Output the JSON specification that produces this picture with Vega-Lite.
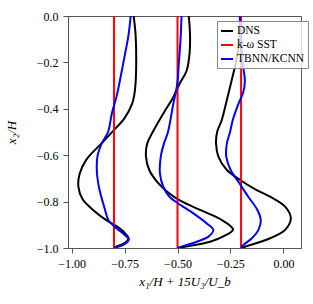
{
  "$schema": "https://vega.github.io/schema/vega-lite/v6.json",
  "autosize": {"type": "none"},
  "padding": {"left": 68, "top": 16, "right": 12, "bottom": 56},
  "width": 233,
  "height": 232,
  "background": "white",
  "config": {
    "view": {"stroke": "#555", "strokeWidth": 1},
    "axis": {
      "labelFont": "Liberation Serif", "labelFontSize": 12, "labelColor": "black",
      "titleFont": "Liberation Serif", "titleFontSize": 13, "titleFontStyle": "italic", "titleFontWeight": "normal", "titleColor": "black",
      "domainColor": "#555", "tickColor": "#555", "tickSize": 5, "grid": false
    }
  },
  "data": {"values": [
    {"m":"DNS","p":1,"y":0,"x":-0.707},{"m":"DNS","p":1,"y":-0.08,"x":-0.698},{"m":"DNS","p":1,"y":-0.2,"x":-0.695},{"m":"DNS","p":1,"y":-0.29,"x":-0.698},{"m":"DNS","p":1,"y":-0.34,"x":-0.704},{"m":"DNS","p":1,"y":-0.38,"x":-0.715},{"m":"DNS","p":1,"y":-0.44,"x":-0.75},{"m":"DNS","p":1,"y":-0.49,"x":-0.798},{"m":"DNS","p":1,"y":-0.55,"x":-0.86},{"m":"DNS","p":1,"y":-0.62,"x":-0.931},{"m":"DNS","p":1,"y":-0.68,"x":-0.962},{"m":"DNS","p":1,"y":-0.735,"x":-0.968},{"m":"DNS","p":1,"y":-0.79,"x":-0.948},{"m":"DNS","p":1,"y":-0.84,"x":-0.893},{"m":"DNS","p":1,"y":-0.88,"x":-0.836},{"m":"DNS","p":1,"y":-0.91,"x":-0.781},{"m":"DNS","p":1,"y":-0.937,"x":-0.747},{"m":"DNS","p":1,"y":-0.958,"x":-0.731},{"m":"DNS","p":1,"y":-0.98,"x":-0.752},{"m":"DNS","p":1,"y":-0.994,"x":-0.79},{"m":"DNS","p":1,"y":-1.0,"x":-0.8},
    {"m":"DNS","p":2,"y":0,"x":-0.447},{"m":"DNS","p":2,"y":-0.08,"x":-0.441},{"m":"DNS","p":2,"y":-0.16,"x":-0.443},{"m":"DNS","p":2,"y":-0.236,"x":-0.457},{"m":"DNS","p":2,"y":-0.29,"x":-0.489},{"m":"DNS","p":2,"y":-0.35,"x":-0.52},{"m":"DNS","p":2,"y":-0.42,"x":-0.567},{"m":"DNS","p":2,"y":-0.5,"x":-0.617},{"m":"DNS","p":2,"y":-0.55,"x":-0.643},{"m":"DNS","p":2,"y":-0.605,"x":-0.649},{"m":"DNS","p":2,"y":-0.665,"x":-0.633},{"m":"DNS","p":2,"y":-0.72,"x":-0.591},{"m":"DNS","p":2,"y":-0.765,"x":-0.538},{"m":"DNS","p":2,"y":-0.795,"x":-0.489},{"m":"DNS","p":2,"y":-0.836,"x":-0.394},{"m":"DNS","p":2,"y":-0.875,"x":-0.299},{"m":"DNS","p":2,"y":-0.92,"x":-0.238},{"m":"DNS","p":2,"y":-0.95,"x":-0.284},{"m":"DNS","p":2,"y":-0.973,"x":-0.346},{"m":"DNS","p":2,"y":-0.988,"x":-0.425},{"m":"DNS","p":2,"y":-1.0,"x":-0.5},
    {"m":"DNS","p":3,"y":0,"x":-0.205},{"m":"DNS","p":3,"y":-0.1,"x":-0.208},{"m":"DNS","p":3,"y":-0.19,"x":-0.222},{"m":"DNS","p":3,"y":-0.276,"x":-0.244},{"m":"DNS","p":3,"y":-0.362,"x":-0.267},{"m":"DNS","p":3,"y":-0.448,"x":-0.291},{"m":"DNS","p":3,"y":-0.5,"x":-0.313},{"m":"DNS","p":3,"y":-0.55,"x":-0.318},{"m":"DNS","p":3,"y":-0.606,"x":-0.307},{"m":"DNS","p":3,"y":-0.664,"x":-0.267},{"m":"DNS","p":3,"y":-0.707,"x":-0.204},{"m":"DNS","p":3,"y":-0.743,"x":-0.141},{"m":"DNS","p":3,"y":-0.779,"x":-0.063},{"m":"DNS","p":3,"y":-0.822,"x":0.008},{"m":"DNS","p":3,"y":-0.872,"x":0.035},{"m":"DNS","p":3,"y":-0.922,"x":0.008},{"m":"DNS","p":3,"y":-0.958,"x":-0.063},{"m":"DNS","p":3,"y":-0.983,"x":-0.141},{"m":"DNS","p":3,"y":-1.0,"x":-0.2},
    {"m":"k-ω SST","p":1,"y":0,"x":-0.8},{"m":"k-ω SST","p":1,"y":-1,"x":-0.8},
    {"m":"k-ω SST","p":2,"y":0,"x":-0.5},{"m":"k-ω SST","p":2,"y":-1,"x":-0.5},
    {"m":"k-ω SST","p":3,"y":0,"x":-0.2},{"m":"k-ω SST","p":3,"y":-1,"x":-0.2},
    {"m":"TBNN/KCNN","p":1,"y":0,"x":-0.721},{"m":"TBNN/KCNN","p":1,"y":-0.08,"x":-0.731},{"m":"TBNN/KCNN","p":1,"y":-0.16,"x":-0.747},{"m":"TBNN/KCNN","p":1,"y":-0.25,"x":-0.766},{"m":"TBNN/KCNN","p":1,"y":-0.34,"x":-0.786},{"m":"TBNN/KCNN","p":1,"y":-0.42,"x":-0.81},{"m":"TBNN/KCNN","p":1,"y":-0.5,"x":-0.828},{"m":"TBNN/KCNN","p":1,"y":-0.55,"x":-0.858},{"m":"TBNN/KCNN","p":1,"y":-0.605,"x":-0.878},{"m":"TBNN/KCNN","p":1,"y":-0.68,"x":-0.88},{"m":"TBNN/KCNN","p":1,"y":-0.75,"x":-0.868},{"m":"TBNN/KCNN","p":1,"y":-0.82,"x":-0.847},{"m":"TBNN/KCNN","p":1,"y":-0.88,"x":-0.826},{"m":"TBNN/KCNN","p":1,"y":-0.908,"x":-0.797},{"m":"TBNN/KCNN","p":1,"y":-0.937,"x":-0.758},{"m":"TBNN/KCNN","p":1,"y":-0.963,"x":-0.73},{"m":"TBNN/KCNN","p":1,"y":-0.983,"x":-0.75},{"m":"TBNN/KCNN","p":1,"y":-1.0,"x":-0.8},
    {"m":"TBNN/KCNN","p":2,"y":0,"x":-0.481},{"m":"TBNN/KCNN","p":2,"y":-0.106,"x":-0.486},{"m":"TBNN/KCNN","p":2,"y":-0.207,"x":-0.494},{"m":"TBNN/KCNN","p":2,"y":-0.293,"x":-0.501},{"m":"TBNN/KCNN","p":2,"y":-0.379,"x":-0.52},{"m":"TBNN/KCNN","p":2,"y":-0.5,"x":-0.545},{"m":"TBNN/KCNN","p":2,"y":-0.55,"x":-0.564},{"m":"TBNN/KCNN","p":2,"y":-0.606,"x":-0.579},{"m":"TBNN/KCNN","p":2,"y":-0.678,"x":-0.583},{"m":"TBNN/KCNN","p":2,"y":-0.736,"x":-0.567},{"m":"TBNN/KCNN","p":2,"y":-0.779,"x":-0.538},{"m":"TBNN/KCNN","p":2,"y":-0.807,"x":-0.498},{"m":"TBNN/KCNN","p":2,"y":-0.851,"x":-0.425},{"m":"TBNN/KCNN","p":2,"y":-0.894,"x":-0.362},{"m":"TBNN/KCNN","p":2,"y":-0.922,"x":-0.331},{"m":"TBNN/KCNN","p":2,"y":-0.951,"x":-0.354},{"m":"TBNN/KCNN","p":2,"y":-0.973,"x":-0.409},{"m":"TBNN/KCNN","p":2,"y":-0.991,"x":-0.472},{"m":"TBNN/KCNN","p":2,"y":-1.0,"x":-0.5},
    {"m":"TBNN/KCNN","p":3,"y":0,"x":-0.205},{"m":"TBNN/KCNN","p":3,"y":-0.1,"x":-0.2},{"m":"TBNN/KCNN","p":3,"y":-0.2,"x":-0.193},{"m":"TBNN/KCNN","p":3,"y":-0.28,"x":-0.182},{"m":"TBNN/KCNN","p":3,"y":-0.33,"x":-0.19},{"m":"TBNN/KCNN","p":3,"y":-0.376,"x":-0.211},{"m":"TBNN/KCNN","p":3,"y":-0.448,"x":-0.239},{"m":"TBNN/KCNN","p":3,"y":-0.5,"x":-0.252},{"m":"TBNN/KCNN","p":3,"y":-0.549,"x":-0.267},{"m":"TBNN/KCNN","p":3,"y":-0.606,"x":-0.27},{"m":"TBNN/KCNN","p":3,"y":-0.664,"x":-0.249},{"m":"TBNN/KCNN","p":3,"y":-0.721,"x":-0.208},{"m":"TBNN/KCNN","p":3,"y":-0.779,"x":-0.166},{"m":"TBNN/KCNN","p":3,"y":-0.836,"x":-0.123},{"m":"TBNN/KCNN","p":3,"y":-0.879,"x":-0.107},{"m":"TBNN/KCNN","p":3,"y":-0.922,"x":-0.118},{"m":"TBNN/KCNN","p":3,"y":-0.958,"x":-0.149},{"m":"TBNN/KCNN","p":3,"y":-0.987,"x":-0.189},{"m":"TBNN/KCNN","p":3,"y":-1.0,"x":-0.2}
  ]},
  "mark": {"type": "line", "strokeWidth": 2, "clip": true, "interpolate": "catmull-rom"},
  "encoding": {
    "x": {"field": "x", "type": "quantitative", "scale": {"domain": [-1.017, 0.083], "nice": false, "zero": false},
      "axis": {"values": [-1, -0.75, -0.5, -0.25, 0], "format": ".2f", "labelPadding": 5, "title": "x₁/H + 15U₃/U_b", "titlePadding": 6}},
    "y": {"field": "y", "type": "quantitative", "scale": {"domain": [-1, 0], "nice": false, "zero": false},
      "axis": {"values": [0, -0.2, -0.4, -0.6, -0.8, -1], "format": ".1f", "labelPadding": 5, "title": "x₂/H", "titlePadding": 18}},
    "color": {"field": "m", "type": "nominal", "sort": ["DNS", "k-ω SST", "TBNN/KCNN"],
      "scale": {"domain": ["DNS", "k-ω SST", "TBNN/KCNN"], "range": ["black", "#ff0000", "#0000ff"]},
      "legend": {"title": null, "orient": "none", "legendX": 149, "legendY": 5, "symbolType": "stroke", "symbolSize": 144, "symbolStrokeWidth": 2,
        "labelFont": "Liberation Serif", "labelFontSize": 11.5, "labelColor": "black", "strokeColor": "#888", "fillColor": "rgba(255,255,255,0.8)", "padding": 3, "rowPadding": 1, "labelOffset": 3}},
    "detail": {"field": "p"},
    "order": {"field": "y", "type": "quantitative"}
  }
}
